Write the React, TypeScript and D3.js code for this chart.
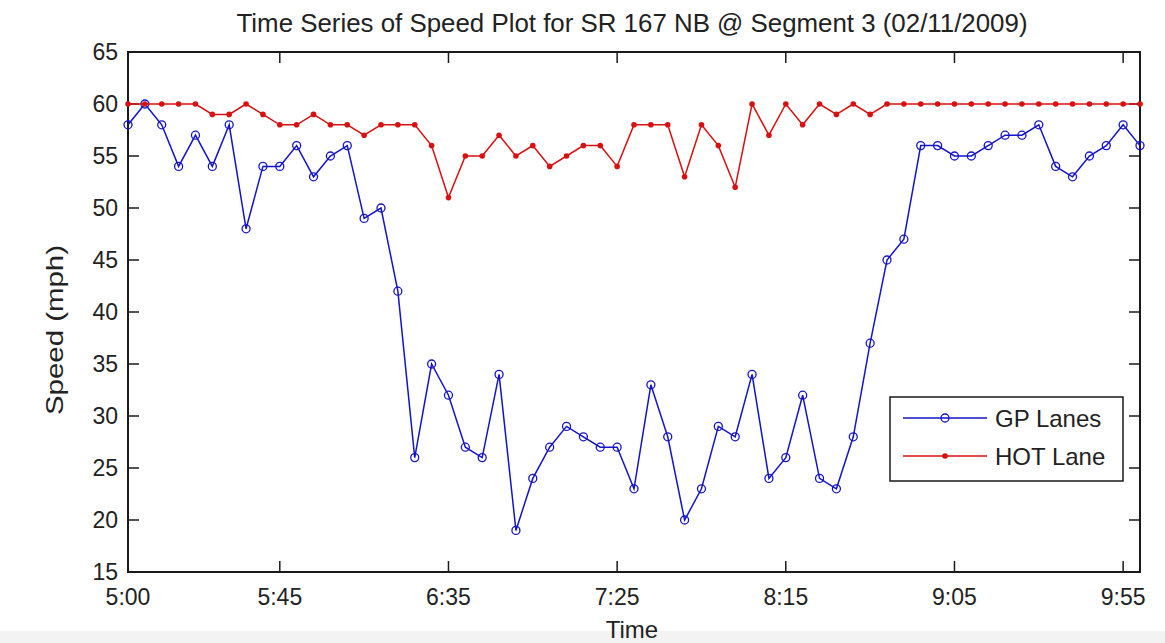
import React from "react";
import * as d3 from "d3";

const gpLanes = [58, 60, 58, 54, 57, 54, 58, 48, 54, 54, 56, 53, 55, 56, 49, 50, 42, 26, 35, 32,
  27, 26, 34, 19, 24, 27, 29, 28, 27, 27, 23, 33, 28, 20, 23, 29, 28, 34, 24, 26,
  32, 24, 23, 28, 37, 45, 47, 56, 56, 55, 55, 56, 57, 57, 58, 54, 53, 55, 56, 58, 56];
const hotLane = [60, 60, 60, 60, 60, 59, 59, 60, 59, 58, 58, 59, 58, 58, 57, 58, 58, 58, 56, 51,
  55, 55, 57, 55, 56, 54, 55, 56, 56, 54, 58, 58, 58, 53, 58, 56, 52, 60, 57, 60,
  58, 60, 59, 60, 59, 60, 60, 60, 60, 60, 60, 60, 60, 60, 60, 60, 60, 60, 60, 60, 60];
const intervalMinutes = 5;
const xTickMinutes = [0, 45, 95, 145, 195, 245, 295];
const xTickLabels = ["5:00", "5:45", "6:35", "7:25", "8:15", "9:05", "9:55"];
const yTicks = [15, 20, 25, 30, 35, 40, 45, 50, 55, 60, 65];
const title = "Time Series of Speed Plot for SR 167 NB @ Segment 3 (02/11/2009)";
const seriesNames = ["GP Lanes", "HOT Lane"];

const W = 1165, H = 643;
const L = 128, R = 1140, T = 52, B = 572;
const FONT = "'Liberation Sans', Arial, Helvetica, sans-serif";
const AX = "#1a1a1a";
const BLUE = "#1414c8";
const RED = "#d81010";

export default function App() {
  const x = d3.scaleLinear().domain([0, 300]).range([L, R]);
  const y = d3.scaleLinear().domain([15, 65]).range([B, T]);
  const line = d3.line<number>().x((_, i) => x(i * intervalMinutes)).y((d) => y(d));
  const tl = 11;

  return (
    <svg width={W} height={H} style={{ position: "absolute", left: 0, top: 0, background: "#fff" }} fontFamily={FONT}>
      <rect x={0} y={0} width={W} height={H} fill="#fff" />
      <rect x={0} y={631} width={W} height={12} fill="#f3f3f3" />
      <text x={(L + R) / 2 - 2} y={32} fontSize={26} textAnchor="middle" fill="#222" textLength={791} lengthAdjust="spacingAndGlyphs">{title}</text>

      {/* ticks */}
      {xTickMinutes.map((m, i) => (
        <g key={"xt" + i}>
          <line x1={x(m)} x2={x(m)} y1={B} y2={B - tl} stroke={AX} strokeWidth={1.5} />
          <line x1={x(m)} x2={x(m)} y1={T} y2={T + tl} stroke={AX} strokeWidth={1.5} />
          <text x={x(m)} y={605} fontSize={23} textAnchor="middle" fill="#222">{xTickLabels[i]}</text>
        </g>
      ))}
      {yTicks.map((v) => (
        <g key={"yt" + v}>
          <line x1={L} x2={L + tl} y1={y(v)} y2={y(v)} stroke={AX} strokeWidth={1.5} />
          <line x1={R} x2={R - tl} y1={y(v)} y2={y(v)} stroke={AX} strokeWidth={1.5} />
          <text x={118} y={y(v) + 8} fontSize={23} textAnchor="end" fill="#222">{v}</text>
        </g>
      ))}
      <rect x={L} y={T} width={R - L} height={B - T} fill="none" stroke={AX} strokeWidth={2} />

      {/* series */}
      <path d={line(gpLanes) || ""} fill="none" stroke={BLUE} strokeWidth={1.5} />
      {gpLanes.map((v, i) => (
        <circle key={"g" + i} cx={x(i * intervalMinutes)} cy={y(v)} r={4} fill="none" stroke={BLUE} strokeWidth={1.3} />
      ))}
      <path d={line(hotLane) || ""} fill="none" stroke={RED} strokeWidth={1.5} />
      {hotLane.map((v, i) => (
        <circle key={"h" + i} cx={x(i * intervalMinutes)} cy={y(v)} r={2.8} fill={RED} />
      ))}

      {/* axis labels */}
      <text x={632} y={638} fontSize={24} textAnchor="middle" fill="#222">Time</text>
      <text transform={`translate(63,330) rotate(-90)`} fontSize={24} textAnchor="middle" fill="#222" textLength={170} lengthAdjust="spacingAndGlyphs">Speed (mph)</text>

      {/* legend */}
      <rect x={890} y={397} width={233} height={84} fill="#fff" stroke={AX} strokeWidth={1.5} />
      <line x1={903} x2={987} y1={418} y2={418} stroke={BLUE} strokeWidth={1.5} />
      <circle cx={945} cy={418} r={4} fill="none" stroke={BLUE} strokeWidth={1.3} />
      <text x={995} y={427} fontSize={24} fill="#222">{seriesNames[0]}</text>
      <line x1={903} x2={987} y1={456} y2={456} stroke={RED} strokeWidth={1.5} />
      <circle cx={945} cy={456} r={2.8} fill={RED} />
      <text x={995} y={465} fontSize={24} fill="#222">{seriesNames[1]}</text>
    </svg>
  );
}
